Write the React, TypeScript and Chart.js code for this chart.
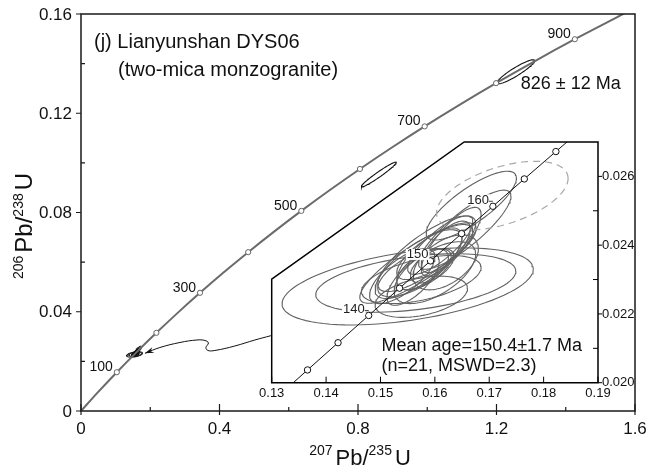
import React, { useEffect, useRef } from "react";
import { Chart, registerables } from "chart.js";
Chart.register(...registerables);

// ---------- DATA ----------
// Concordia (Ma) with 207Pb/235U and 206Pb/238U values
const concAges = [0, 50, 100, 150, 200, 250, 300, 350, 400, 450, 500, 550, 600, 650, 700, 750, 800, 850, 900, 950, 1000];
const concX = [0, 0.050475, 0.1035, 0.159197, 0.21771, 0.27917, 0.34374, 0.41156, 0.48281, 0.55766, 0.63628, 0.71887, 0.80563, 0.89677, 0.99251, 1.09308, 1.19873, 1.30971, 1.4263, 1.54876, 1.67741];
const concY = [0, 0.0077864, 0.0156334, 0.0235416, 0.031511, 0.039543, 0.047637, 0.055795, 0.064015, 0.0723005, 0.08065, 0.089064, 0.097544, 0.10609, 0.114702, 0.12338, 0.132129, 0.140944, 0.149828, 0.158781, 0.167804];
const mainMarkerAges = [100, 200, 300, 400, 500, 600, 700, 800, 900];
const mainLabelAges = [100, 300, 500, 700, 900];

const insetAges = [125, 130, 135, 140, 145, 150, 155, 160, 165, 170, 175];
const insetConcX = [0.1310046, 0.1365878, 0.1421984, 0.1478367, 0.1535029, 0.1591969, 0.1649193, 0.1706697, 0.1764486, 0.182256, 0.188092];
const insetConcY = [0.0195798, 0.020371, 0.0211627, 0.021955, 0.022748, 0.0235416, 0.0243357, 0.0251305, 0.025926, 0.026722, 0.0275188];
const insetMarkerAges = [130, 135, 140, 145, 150, 155, 160, 165, 170];
const insetLabelAges = [140, 150, 160];

// ellipses: [x, y, halfWidthX, halfWidthY, rho]
const insetEllipses = [
  [0.155, 0.0228, 0.0231, 0.00112, 0.45],
  [0.1565, 0.0229, 0.0184, 0.00085, 0.4],
  [0.1575, 0.023, 0.011, 0.0007, 0.5],
  [0.1569, 0.02348, 0.0107, 0.00117, 0.85],
  [0.159, 0.0236, 0.006, 0.0009, 0.7],
  [0.158, 0.0233, 0.005, 0.0006, 0.6],
  [0.16, 0.0238, 0.007, 0.0008, 0.75],
  [0.156, 0.0232, 0.0065, 0.0007, 0.65],
  [0.161, 0.024, 0.006, 0.00085, 0.8],
  [0.162, 0.02395, 0.0045, 0.00075, 0.7],
  [0.157, 0.02345, 0.008, 0.001, 0.75],
  [0.1595, 0.0234, 0.004, 0.0005, 0.55],
  [0.1585, 0.02375, 0.009, 0.0011, 0.8],
  [0.156, 0.023, 0.0048, 0.00075, 0.7],
  [0.163, 0.0241, 0.0055, 0.001, 0.8],
  [0.1667, 0.02515, 0.0083, 0.001, 0.8],
  [0.1655, 0.02445, 0.0085, 0.00115, 0.85],
  [0.154, 0.0231, 0.006, 0.0008, 0.7],
  [0.1575, 0.0225, 0.0085, 0.0006, 0.4],
  [0.162, 0.0235, 0.006, 0.0008, 0.5],
  [0.16, 0.0232, 0.0075, 0.0009, 0.6],
];
const rejectedEllipses = [[0.1724, 0.02544, 0.0121, 0.001, 0.5]];
const upperEllipse = [1.2558, 0.13671, 0.054, 0.00484, 0.918];
const discordantEllipse = [0.86, 0.0953, 0.0505, 0.005, 0.969];

const arrowX = [0.5483, 0.5022, 0.4444, 0.3867, 0.3665, 0.3608, 0.368, 0.3579, 0.3348, 0.2857, 0.228, 0.1847];
const arrowY = [0.03035, 0.02862, 0.0262, 0.02439, 0.02439, 0.02559, 0.02741, 0.02842, 0.02862, 0.02761, 0.02559, 0.02326];

const mainXMajor = [0, 0.4, 0.8, 1.2, 1.6];
const mainXLabels = ["0", "0.4", "0.8", "1.2", "1.6"];
const mainXMinor = [0.2, 0.6, 1.0, 1.4];
const mainYMajor = [0, 0.04, 0.08, 0.12, 0.16];
const mainYLabels = ["0", "0.04", "0.08", "0.12", "0.16"];
const mainYMinor = [0.02, 0.06, 0.1, 0.14];

const insetXTicks = [0.13, 0.14, 0.15, 0.16, 0.17, 0.18, 0.19];
const insetXLabels = ["0.13", "0.14", "0.15", "0.16", "0.17", "0.18", "0.19"];
const insetYMajor = [0.02, 0.022, 0.024, 0.026];
const insetYLabels = ["0.020", "0.022", "0.024", "0.026"];
const insetYMinor = [0.021, 0.023, 0.025];

const titleLine1 = "(j) Lianyunshan DYS06";
const titleLine2 = "(two-mica monzogranite)";
const upperAgeText = "826 ± 12 Ma";
const meanText1 = "Mean age=150.4±1.7 Ma";
const meanText2 = "(n=21, MSWD=2.3)";

// ---------- HELPERS ----------
const FONT = '"Liberation Sans", Arial, Helvetica, sans-serif';
const f = (s: number) => `${s}px ${FONT}`;

function ellipsePts(e: number[], n = 90) {
  const [cx, cy, sx, sy, r] = e;
  const k = Math.sqrt(1 - r * r);
  const pts: { x: number; y: number }[] = [];
  for (let i = 0; i <= n; i++) {
    const t = (2 * Math.PI * i) / n;
    pts.push({ x: cx + sx * Math.cos(t), y: cy + sy * (r * Math.cos(t) + k * Math.sin(t)) });
  }
  return pts;
}

function ellipseDataset(e: number[], color: string, width: number, dash: number[] = []) {
  return {
    data: ellipsePts(e),
    showLine: true,
    pointRadius: 0,
    borderColor: color,
    borderWidth: width,
    borderDash: dash,
    fill: false,
    tension: 0,
    order: 3,
  };
}

function pickAges(ages: number[], xs: number[], ys: number[], wanted: number[]) {
  return wanted.map((a) => {
    const i = ages.indexOf(a);
    return { x: xs[i], y: ys[i] };
  });
}

function drawRich(ctx: CanvasRenderingContext2D, parts: [string, boolean][], big: number, small: number, rise: number) {
  let x = 0;
  for (const [t, sup] of parts) {
    ctx.font = f(sup ? small : big);
    ctx.fillText(t, x, sup ? -rise : 0);
    x += ctx.measureText(t).width + (sup ? 3 : 0);
  }
  return x;
}
function richWidth(ctx: CanvasRenderingContext2D, parts: [string, boolean][], big: number, small: number) {
  let x = 0;
  for (const [t, sup] of parts) {
    ctx.font = f(sup ? small : big);
    x += ctx.measureText(t).width + (sup ? 3 : 0);
  }
  return x;
}

const mainPlugin = {
  id: "mainDeco",
  afterDraw(chart: any) {
    const { ctx, chartArea: a, scales } = chart;
    const xs = scales.x, ys = scales.y;
    ctx.save();
    ctx.strokeStyle = "#1a1a1a";
    ctx.lineWidth = 1.5;
    ctx.strokeRect(a.left, a.top, a.right - a.left, a.bottom - a.top);
    ctx.lineWidth = 1.2;
    ctx.beginPath();
    mainXMajor.forEach((v) => {
      const px = xs.getPixelForValue(v);
      ctx.moveTo(px, a.bottom - 7);
      ctx.lineTo(px, a.bottom + 4);
    });
    mainXMinor.forEach((v) => {
      const px = xs.getPixelForValue(v);
      ctx.moveTo(px, a.bottom - 4);
      ctx.lineTo(px, a.bottom);
    });
    mainYMajor.forEach((v) => {
      const py = ys.getPixelForValue(v);
      ctx.moveTo(a.left - 5, py);
      ctx.lineTo(a.left, py);
    });
    mainYMinor.forEach((v) => {
      const py = ys.getPixelForValue(v);
      ctx.moveTo(a.left, py);
      ctx.lineTo(a.left + 4, py);
    });
    ctx.stroke();

    ctx.fillStyle = "#111";
    ctx.font = f(17);
    ctx.textAlign = "center";
    ctx.textBaseline = "middle";
    mainXMajor.forEach((v, i) => ctx.fillText(mainXLabels[i], xs.getPixelForValue(v), a.bottom + 18));
    ctx.textAlign = "right";
    mainYMajor.forEach((v, i) => ctx.fillText(mainYLabels[i], a.left - 9, ys.getPixelForValue(v) + 1));

    // age labels
    ctx.font = f(14);
    ctx.textAlign = "right";
    ctx.textBaseline = "alphabetic";
    pickAges(concAges, concX, concY, mainLabelAges).forEach((p, i) => {
      ctx.fillText(String(mainLabelAges[i]), xs.getPixelForValue(p.x) - 4, ys.getPixelForValue(p.y) - 1);
    });

    // title
    ctx.textAlign = "left";
    ctx.font = f(20);
    ctx.fillText(titleLine1, a.left + 13, a.top + 34);
    ctx.fillText(titleLine2, a.left + 37, a.top + 62);
    ctx.font = f(18);
    ctx.fillText(upperAgeText, xs.getPixelForValue(1.27), ys.getPixelForValue(0.1297));

    // arrow head
    const n = arrowX.length;
    const tx = xs.getPixelForValue(arrowX[n - 1]), ty = ys.getPixelForValue(arrowY[n - 1]);
    const bx = xs.getPixelForValue(arrowX[n - 2]), by = ys.getPixelForValue(arrowY[n - 2]);
    const ang = Math.atan2(ty - by, tx - bx);
    ctx.beginPath();
    ctx.moveTo(tx, ty);
    ctx.lineTo(tx - 9 * Math.cos(ang) + 3 * Math.sin(ang), ty - 9 * Math.sin(ang) - 3 * Math.cos(ang));
    ctx.lineTo(tx - 6 * Math.cos(ang), ty - 6 * Math.sin(ang));
    ctx.lineTo(tx - 9 * Math.cos(ang) - 3 * Math.sin(ang), ty - 9 * Math.sin(ang) + 3 * Math.cos(ang));
    ctx.closePath();
    ctx.fill();

    // axis titles
    const xt: [string, boolean][] = [["207", true], ["Pb/", false], ["235", true], ["U", false]];
    const w = richWidth(ctx, xt, 22, 14);
    ctx.save();
    ctx.translate((a.left + a.right) / 2 - w / 2 + 2, 465);
    drawRich(ctx, xt, 22, 14, 10);
    ctx.restore();
    const yt: [string, boolean][] = [["206", true], ["Pb/", false], ["238", true], ["U", false]];
    const wy = richWidth(ctx, yt, 24, 14);
    ctx.save();
    ctx.translate(32, 226 + wy / 2);
    ctx.rotate(-Math.PI / 2);
    drawRich(ctx, yt, 24, 14, 9);
    ctx.restore();
    ctx.restore();
  },
};

const insetFrame = [
  [0.13, 0.02],
  [0.13, 0.02301],
  [0.1654, 0.027],
  [0.19, 0.027],
  [0.19, 0.02],
];

const insetPlugin = {
  id: "insetDeco",
  beforeDatasetsDraw(chart: any) {
    const { ctx, scales } = chart;
    ctx.save();
    ctx.beginPath();
    insetFrame.forEach(([vx, vy], i) => {
      const px = scales.x.getPixelForValue(vx), py = scales.y.getPixelForValue(vy);
      if (i === 0) ctx.moveTo(px, py);
      else ctx.lineTo(px, py);
    });
    ctx.closePath();
    ctx.fillStyle = "#fff";
    ctx.fill();
    ctx.clip();
  },
  afterDatasetsDraw(chart: any) {
    const { ctx, chartArea: a, scales } = chart;
    const xs = scales.x, ys = scales.y;
    ctx.restore();
    ctx.save();
    ctx.beginPath();
    insetFrame.forEach(([vx, vy], i) => {
      const px = xs.getPixelForValue(vx), py = ys.getPixelForValue(vy);
      if (i === 0) ctx.moveTo(px, py);
      else ctx.lineTo(px, py);
    });
    ctx.closePath();
    ctx.strokeStyle = "#000";
    ctx.lineWidth = 1.5;
    ctx.stroke();

    ctx.lineWidth = 1;
    ctx.beginPath();
    insetXTicks.forEach((v) => {
      const px = xs.getPixelForValue(v);
      ctx.moveTo(px, a.bottom);
      ctx.lineTo(px, a.bottom - 6);
    });
    insetYMajor.forEach((v) => {
      const py = ys.getPixelForValue(v);
      ctx.moveTo(a.right, py);
      ctx.lineTo(a.right + 4, py);
    });
    insetYMinor.forEach((v) => {
      const py = ys.getPixelForValue(v);
      ctx.moveTo(a.right, py);
      ctx.lineTo(a.right - 5, py);
    });
    ctx.stroke();

    ctx.fillStyle = "#111";
    ctx.font = f(13);
    ctx.textAlign = "center";
    ctx.textBaseline = "middle";
    insetXTicks.forEach((v, i) => ctx.fillText(insetXLabels[i], xs.getPixelForValue(v), a.bottom + 11));
    ctx.textAlign = "left";
    insetYMajor.forEach((v, i) => ctx.fillText(insetYLabels[i], a.right + 4, ys.getPixelForValue(v)));

    // age labels on inset concordia
    ctx.font = f(13);
    ctx.textAlign = "right";
    ctx.textBaseline = "middle";
    pickAges(insetAges, insetConcX, insetConcY, insetLabelAges).forEach((p, i) => {
      const px = xs.getPixelForValue(p.x), py = ys.getPixelForValue(p.y);
      const t = String(insetLabelAges[i]);
      const tw = ctx.measureText(t).width;
      const right = px - (i === 1 ? 2 : 4);
      ctx.fillStyle = "#fff";
      ctx.fillRect(right - tw - 1, py - 12, tw + 2, 11);
      ctx.fillStyle = "#222";
      ctx.fillText(t, right, py - 6);
      if (i !== 1) {
        ctx.strokeStyle = "#444";
        ctx.beginPath();
        ctx.moveTo(right, py - 5);
        ctx.lineTo(px, py - 5);
        ctx.stroke();
      }
    });

    ctx.fillStyle = "#111";
    ctx.textAlign = "left";
    ctx.textBaseline = "alphabetic";
    ctx.font = f(18);
    ctx.fillText(meanText1, xs.getPixelForValue(0.1502), ys.getPixelForValue(0.02091));
    ctx.fillText(meanText2, xs.getPixelForValue(0.1502), ys.getPixelForValue(0.02034));
    ctx.restore();
  },
};

export default function App() {
  const mainRef = useRef<HTMLCanvasElement>(null);
  const insetRef = useRef<HTMLCanvasElement>(null);

  useEffect(() => {
    document.body.style.margin = "0";
    const mainMarkers = pickAges(concAges, concX, concY, mainMarkerAges);
    const concData = concX.map((x, i) => ({ x, y: concY[i] }));
    const arrowData = arrowX.map((x, i) => ({ x, y: arrowY[i] }));

    const main = new Chart(mainRef.current!, {
      type: "scatter",
      data: {
        datasets: [
          {
            data: mainMarkers,
            pointRadius: 2.6,
            pointBackgroundColor: "#fff",
            pointBorderColor: "#666",
            pointBorderWidth: 1,
            showLine: false,
            order: 0,
          } as any,
          {
            data: concData,
            showLine: true,
            pointRadius: 0,
            borderColor: "#6b6b6b",
            borderWidth: 2,
            cubicInterpolationMode: "monotone",
            order: 1,
          },
          {
            data: arrowData,
            showLine: true,
            pointRadius: 0,
            borderColor: "#111",
            borderWidth: 1,
            tension: 0.4,
            order: 2,
          },
          ellipseDataset(upperEllipse, "#111", 1.1),
          ellipseDataset(discordantEllipse, "#111", 1.1),
          ...insetEllipses.map((e) => ellipseDataset(e, "#111", 1)),
        ],
      },
      options: {
        animation: false,
        responsive: false,
        events: [],
        layout: { padding: { left: 81, right: 17, top: 14, bottom: 59 } },
        scales: {
          x: { type: "linear", min: 0, max: 1.6, display: false },
          y: { type: "linear", min: 0, max: 0.16, display: false },
        },
        plugins: { legend: { display: false }, tooltip: { enabled: false } },
      },
      plugins: [mainPlugin],
    } as any);

    const insetMarkers = pickAges(insetAges, insetConcX, insetConcY, insetMarkerAges);
    const insetConc = insetConcX.map((x, i) => ({ x, y: insetConcY[i] }));
    const inset = new Chart(insetRef.current!, {
      type: "scatter",
      data: {
        datasets: [
          {
            data: insetMarkers,
            pointRadius: 3.2,
            pointBackgroundColor: "#fff",
            pointBorderColor: "#111",
            pointBorderWidth: 1,
            showLine: false,
            order: 0,
          } as any,
          {
            data: insetConc,
            showLine: true,
            pointRadius: 0,
            borderColor: "#111",
            borderWidth: 1,
            tension: 0,
            order: 1,
          },
          ...rejectedEllipses.map((e) => ellipseDataset(e, "#a8a8a8", 1.2, [7, 5])),
          ...insetEllipses.map((e) => ellipseDataset(e, "#626262", 1.1)),
        ],
      },
      options: {
        animation: false,
        responsive: false,
        events: [],
        layout: { padding: { left: 271.7, right: 54, top: 142, bottom: 87.3 } },
        scales: {
          x: { type: "linear", min: 0.13, max: 0.19, display: false },
          y: { type: "linear", min: 0.02, max: 0.027, display: false },
        },
        plugins: { legend: { display: false }, tooltip: { enabled: false } },
      },
      plugins: [insetPlugin],
    } as any);

    return () => {
      main.destroy();
      inset.destroy();
    };
  }, []);

  return (
    <div style={{ position: "fixed", left: 0, top: 0, width: 652, height: 470, background: "#fff" }}>
      <canvas ref={mainRef} width={652} height={470} style={{ position: "absolute", left: 0, top: 0, width: 652, height: 470 }} />
      <canvas ref={insetRef} width={652} height={470} style={{ position: "absolute", left: 0, top: 0, width: 652, height: 470, pointerEvents: "none" }} />
    </div>
  );
}
